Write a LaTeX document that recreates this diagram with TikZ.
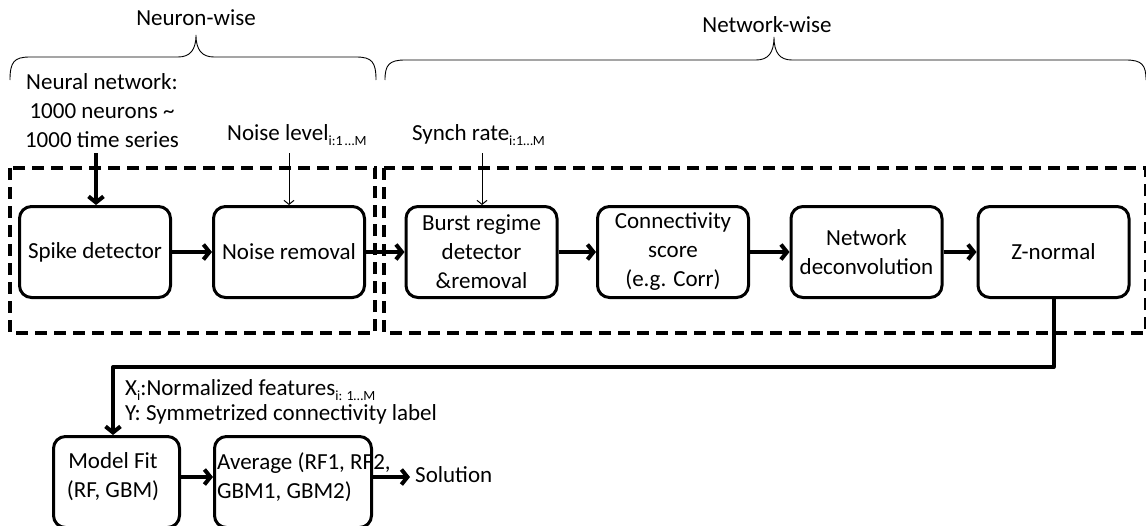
\documentclass[tikz,border=0pt]{standalone}
\usepackage{fontspec}
\setmainfont{Carlito}
\usetikzlibrary{arrows.meta}
% lowered small index text, e.g. "i:1...M"
\newcommand\idx[1]{\raisebox{-5pt}{\fontsize{14}{14}\selectfont #1}}

\begin{document}
\begin{tikzpicture}[x=1pt,y=-1pt,
  font=\fontsize{23}{29}\selectfont,
  stage/.style={draw, line width=3pt, rounded corners=12pt,
    minimum width=151pt, minimum height=91pt, align=center, inner sep=0pt},
  group/.style={line width=3.5pt, dash pattern=on 12pt off 7pt},
  bigflow/.style={line width=4pt, -{Straight Barb[length=6pt,width=15pt]}},
  thinflow/.style={line width=1pt, -{Straight Barb[length=4pt,width=10pt]}},
  brace/.style={line width=0.9pt},
  lbl/.style={inner sep=0pt}]

\useasboundingbox (0,0) rectangle (1146,525);

% ---- grouping braces ----
\draw[brace] (10,80) .. controls (10,62) and (14,57) .. (30,57) -- (178,57)
  .. controls (190,57) and (196,50) .. (196,35)
  .. controls (196,50) and (202,57) .. (214,57) -- (356,57)
  .. controls (372,57) and (376,62) .. (376,80);
\node[lbl] (nw) at (196,18) {Neuron-wise};

\draw[brace] (385,80) .. controls (385,65) and (389,60) .. (405,60) -- (756,60)
  .. controls (768,60) and (774,53) .. (774,37)
  .. controls (774,53) and (780,60) .. (792,60) -- (1126,60)
  .. controls (1142,60) and (1146,65) .. (1146,80);
\node[lbl] (ntw) at (767,25) {Network-wise};

% ---- dashed groups ----
\draw[group] (10,168) rectangle (375,333);
\draw[group] (384,168) rectangle (1146,333);

% ---- pipeline stages ----
\node[stage] (b1) at (95,252)    {Spike detector};
\node[stage] (b2) at (289,252)   {Noise removal};
\node[stage] (b3) at (481.5,252) {Burst regime\\detector\\\&removal};
\node[stage] (b4) at (673,252)   {Connectivity\\score\\(e.g. Corr)};
\node[stage] (b5) at (866.5,252) {Network\\deconvolution};
\node[stage] (b6) at (1053.5,252){Z-normal};

\node[stage, minimum width=126pt] (mf)  at (116.5,482) {};
\node[lbl, align=center] (mft) at (113,477) {Model Fit\\(RF, GBM)};
\node[stage, minimum width=157pt] (avg) at (293,482) {};
\node[lbl, align=left, anchor=west] (avgt) at (217,477) {Average (RF1, RF2,\\GBM1, GBM2)};

% ---- inputs ----
\node[lbl, align=center] (nn) at (102,111) {Neural network:\\1000 neurons \textasciitilde\\1000 time series};
\node[lbl, anchor=base west] (nl) at (227,140) {Noise level\idx{i:1\,…M}};
\node[lbl, anchor=base west] (sr) at (412,140) {Synch rate\idx{i:1…M}};
\node[lbl, anchor=west] (sol) at (415,475) {Solution};
\node[lbl, align=left, anchor=west, font=\fontsize{23}{25}\selectfont] (xy) at (125,402)
  {X\idx{i}:Normalized features\idx{i: 1…M}\\Y: Symmetrized connectivity label};

\coordinate (in1) at (96,153);
\coordinate (in2) at (289,153);
\coordinate (in3) at (482,153);
\coordinate (turn1) at (1053.5,367);
\coordinate (turn2) at (113,367);
\coordinate (solend) at (410,477);

% ---- connectors ----
\draw[bigflow] (in1) -- (in1 |- b1.north);
\draw[thinflow] (in2) -- (b2.north);
\draw[thinflow] (in3) -- (in3 |- b3.north);
\draw[bigflow] (b1) -- (b2);
\draw[bigflow] (b2) -- (b3);
\draw[bigflow] (b3) -- (b4);
\draw[bigflow] (b4) -- (b5);
\draw[bigflow] (b5) -- (b6);
\draw[bigflow, line join=round] (b6.south) -- (turn1) -- (turn2) -- (turn2 |- mf.north);
\draw[bigflow] (mf.east |- solend) -- (avg.west |- solend);
\draw[bigflow] (avg.east |- solend) -- (solend);
\end{tikzpicture}
\end{document}
